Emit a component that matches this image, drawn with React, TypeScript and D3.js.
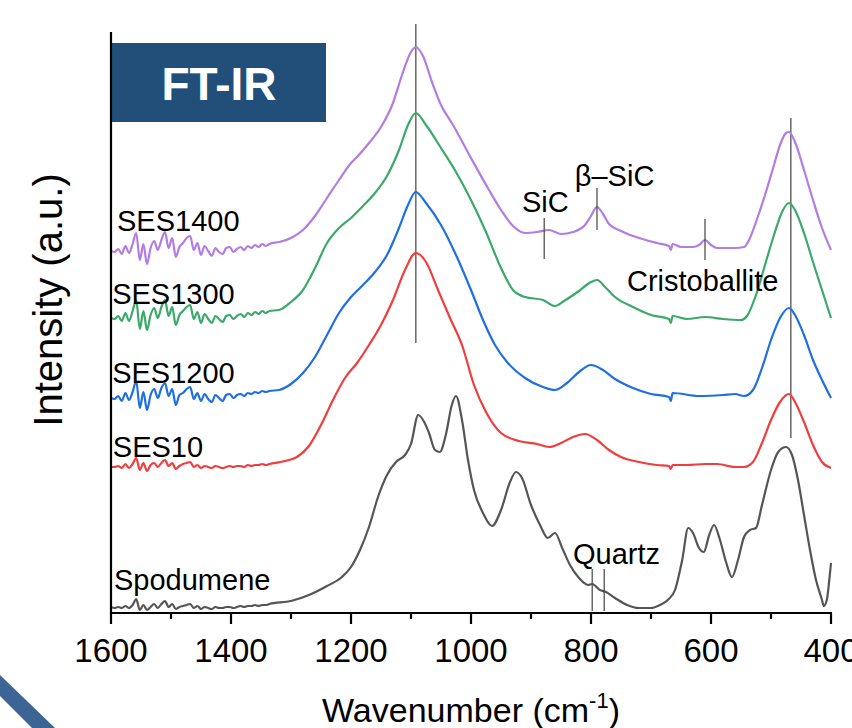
import React from "react";
import * as d3 from "d3";

// ---------- data ----------
const majorTicks = [1600, 1400, 1200, 1000, 800, 600, 400];
const minorTicks = [1500, 1300, 1100, 900, 700, 500];

const noiseWavenumbers = [
  1600, 1594, 1588, 1582, 1576, 1570, 1564, 1558, 1552, 1546, 1540, 1534, 1528, 1522, 1516,
  1510, 1504, 1498, 1492, 1486, 1480, 1474, 1468, 1462, 1456, 1450, 1444, 1438, 1432, 1426,
  1420, 1414, 1408, 1402, 1396, 1390, 1384, 1378, 1372, 1366, 1360, 1354, 1348, 1342, 1336,
];

const ses1400Noise = [
  36.2, 36.1, 36.4, 35.9, 36.7, 36.0, 36.9, 38.0, 35.3, 36.9, 34.9, 36.5, 37.2, 36.3, 37.3,
  38.1, 36.5, 37.5, 35.6, 36.6, 37.0, 37.5, 37.7, 36.3, 37.0, 35.8, 36.7, 36.2, 35.7, 36.5,
  36.1, 35.9, 36.5, 36.6, 36.1, 36.4, 36.6, 36.3, 36.7, 36.5, 36.8, 36.6, 36.9, 36.7, 36.9,
];
const ses1300Noise = [
  29.5, 29.4, 29.7, 29.2, 30.0, 29.2, 30.2, 31.3, 28.4, 30.2, 28.3, 29.8, 30.5, 29.5, 30.6,
  31.3, 29.7, 30.6, 28.8, 29.8, 30.2, 30.6, 30.8, 29.4, 30.1, 29.0, 29.9, 29.4, 29.0, 29.7,
  29.4, 29.1, 29.7, 29.8, 29.4, 29.7, 29.9, 29.6, 30.0, 29.8, 30.1, 29.9, 30.2, 30.0, 30.2,
];
const ses1200Noise = [
  21.5, 21.4, 21.7, 21.2, 22.0, 21.3, 22.1, 23.2, 20.5, 22.1, 20.3, 21.8, 22.4, 21.5, 22.5,
  23.0, 21.7, 22.4, 20.8, 21.8, 22.0, 22.4, 22.6, 21.4, 22.0, 21.2, 21.9, 21.4, 21.1, 21.8,
  21.5, 21.2, 21.8, 21.9, 21.5, 21.8, 21.9, 21.7, 22.0, 21.9, 22.1, 22.0, 22.2, 22.1, 22.2,
];
const ses10Noise = [
  14.6, 14.6, 14.7, 14.5, 14.9, 14.5, 14.9, 15.5, 14.3, 15.0, 14.2, 14.8, 15.0, 14.6, 15.0,
  15.3, 14.7, 15.0, 14.4, 14.7, 14.9, 15.0, 15.1, 14.6, 14.8, 14.5, 14.7, 14.6, 14.5, 14.7,
  14.6, 14.5, 14.6, 14.7, 14.6, 14.7, 14.7, 14.6, 14.8, 14.7, 14.8, 14.8, 14.9, 14.8, 14.9,
];
const spodumeneNoise = [
  0.6, 0.5, 0.6, 0.5, 0.7, 0.5, 0.8, 1.4, 0.3, 0.8, 0.3, 0.6, 0.9, 0.5, 0.9,
  1.2, 0.6, 0.9, 0.4, 0.6, 0.7, 0.8, 0.9, 0.5, 0.7, 0.4, 0.6, 0.5, 0.4, 0.6,
  0.5, 0.5, 0.6, 0.6, 0.5, 0.6, 0.7, 0.6, 0.7, 0.7, 0.8, 0.7, 0.8, 0.8, 0.9,
];

// [wavenumber (cm-1), intensity (a.u.)]
const ses1400Main: [number, number][] = [
  [1320, 37.1], [1300, 37.5], [1280, 38.3], [1260, 39.7], [1240, 41.5], [1220, 43.3],
  [1200, 45.0], [1190, 45.6], [1170, 47.0], [1150, 48.6], [1130, 51.0], [1115, 53.8],
  [1100, 56.1], [1092, 56.6], [1080, 55.7], [1065, 53.1], [1050, 50.8], [1030, 48.8],
  [1000, 45.5], [970, 42.3], [950, 40.3], [930, 38.7], [910, 38.0], [890, 38.1],
  [870, 38.3], [850, 37.9], [830, 38.1], [810, 38.8], [800, 39.7], [790, 40.6],
  [780, 39.9], [770, 38.9], [750, 38.2], [720, 37.5], [690, 37.0], [670, 36.7],
  [667, 36.3], [664, 36.9], [650, 36.6], [630, 36.6], [620, 36.8], [610, 37.3],
  [600, 36.8], [590, 36.5], [560, 36.5], [545, 36.6], [535, 37.5], [525, 39.1],
  [510, 41.8], [495, 44.8], [485, 46.8], [475, 48.0], [470, 48.1], [460, 47.1],
  [445, 44.3], [430, 41.3], [415, 38.5], [400, 36.3],
];
const ses1300Main: [number, number][] = [
  [1320, 30.3], [1300, 31.1], [1280, 32.3], [1260, 34.5], [1240, 37.0], [1220, 38.5],
  [1200, 39.5], [1180, 40.7], [1160, 42.0], [1140, 43.7], [1120, 46.3], [1105, 48.8],
  [1092, 50.0], [1075, 48.8], [1050, 46.5], [1025, 44.1], [1000, 41.3], [975, 38.1],
  [950, 34.5], [930, 32.3], [910, 31.6], [880, 31.3], [860, 30.7], [845, 31.2],
  [820, 32.2], [800, 33.1], [790, 33.3], [775, 32.5], [760, 31.6], [730, 30.6],
  [700, 29.8], [670, 29.4], [667, 29.0], [664, 29.7], [640, 29.4], [610, 29.6],
  [580, 29.4], [550, 29.3], [540, 29.7], [525, 31.8], [510, 34.8], [495, 37.8],
  [480, 40.3], [470, 41.0], [460, 40.3], [445, 38.0], [430, 35.1], [415, 32.3],
  [400, 29.5],
];
const ses1200Main: [number, number][] = [
  [1320, 22.3], [1300, 22.9], [1280, 24.0], [1260, 25.6], [1240, 27.8], [1220, 30.0],
  [1200, 31.6], [1180, 32.8], [1160, 34.1], [1140, 35.8], [1120, 38.5], [1105, 40.8],
  [1092, 42.1], [1075, 41.0], [1050, 38.8], [1025, 35.8], [1000, 32.3], [980, 29.3],
  [960, 26.8], [940, 25.1], [910, 23.5], [880, 22.6], [860, 22.3], [840, 23.0],
  [820, 24.1], [800, 24.8], [780, 24.3], [760, 23.4], [730, 22.5], [700, 21.9],
  [670, 21.6], [667, 21.2], [664, 22.0], [620, 21.7], [580, 21.8], [560, 21.9],
  [545, 21.7], [530, 22.3], [515, 24.5], [500, 27.3], [485, 29.5], [470, 30.5],
  [460, 29.8], [445, 27.8], [430, 25.3], [415, 23.3], [400, 21.5],
];
const ses10Main: [number, number][] = [
  [1310, 15.2], [1290, 15.6], [1270, 16.7], [1250, 18.8], [1230, 21.3], [1210, 23.5],
  [1190, 25.0], [1170, 26.8], [1150, 28.8], [1130, 31.3], [1110, 34.3], [1092, 36.0],
  [1075, 35.1], [1055, 32.3], [1035, 29.5], [1015, 26.8], [995, 22.8], [975, 20.1],
  [950, 18.0], [920, 17.2], [890, 16.9], [870, 16.6], [850, 17.0], [830, 17.6],
  [810, 17.9], [790, 17.3], [770, 16.3], [750, 15.6], [720, 15.1], [690, 14.8],
  [670, 14.7], [667, 14.4], [664, 14.8], [640, 14.8], [610, 14.9], [590, 14.9],
  [560, 14.6], [545, 14.6], [530, 15.1], [515, 17.0], [500, 19.3], [485, 21.1],
  [470, 21.9], [460, 21.1], [445, 19.1], [430, 16.8], [415, 15.1], [400, 14.5],
];
const spodumeneMain: [number, number][] = [
  [1300, 1.2], [1270, 1.8], [1240, 2.7], [1215, 3.6], [1200, 4.6], [1185, 6.3],
  [1170, 8.6], [1155, 11.6], [1140, 13.8], [1125, 15.1], [1110, 15.8], [1100, 16.9],
  [1088, 19.8], [1078, 19.1], [1070, 18.0], [1060, 16.3], [1052, 16.1], [1042, 17.8],
  [1032, 20.8], [1025, 21.7], [1015, 19.3], [1005, 15.3], [995, 12.3], [980, 10.0],
  [965, 8.7], [950, 10.3], [935, 13.1], [925, 14.1], [915, 13.5], [900, 10.8],
  [885, 8.8], [872, 7.5], [860, 8.0], [848, 6.5], [835, 4.8], [820, 3.5],
  [805, 2.8], [798, 2.9], [785, 2.3], [775, 2.1], [760, 1.5], [740, 0.8],
  [720, 0.5], [700, 0.5], [685, 0.8], [672, 1.3], [660, 2.3], [648, 5.3],
  [638, 8.5], [630, 8.0], [620, 6.5], [612, 6.1], [603, 7.8], [595, 8.8],
  [585, 7.3], [575, 5.1], [565, 3.6], [555, 5.3], [545, 7.6], [535, 8.3],
  [525, 8.5], [515, 10.8], [500, 14.3], [488, 16.1], [475, 16.6], [465, 15.8],
  [455, 13.3], [445, 9.8], [435, 6.3], [425, 3.3], [415, 1.3], [412, 0.7],
  [407, 1.3], [402, 3.8], [400, 5.0],
];

const seriesNames = ["SES1400", "SES1300", "SES1200", "SES10", "Spodumene"];
const seriesColors = ["#b27de3", "#3aa96a", "#1f6fe0", "#f03d3d", "#555555"];
const seriesNoise = [ses1400Noise, ses1300Noise, ses1200Noise, ses10Noise, spodumeneNoise];
const seriesMain = [ses1400Main, ses1300Main, ses1200Main, ses10Main, spodumeneMain];
// label anchor: [wavenumber, intensity]
const seriesLabelPos: [number, number][] = [
  [1590, 38.2], [1598, 30.9], [1598, 23.0], [1597, 15.6], [1595, 2.3],
];

// reference lines: [wavenumber, from, to]
const guideLines: [number, number, number][] = [
  [1092, 27.0, 58.9],
  [467, 17.5, 49.5],
];
const markerLines: [number, number, number][] = [
  [878, 35.4, 39.5],
  [790, 38.3, 42.5],
  [610, 35.3, 39.4],
  [798, 0.2, 4.4],
  [778, 0.2, 4.4],
];
const annotations: [string, number, number][] = [
  ["SiC", 915, 40.1],
  ["\u03b2\u2013SiC", 827, 42.7],
  ["Cristoballite", 740, 32.2],
  ["Quartz", 830, 4.9],
];

const FONT = "'Liberation Sans', Arial, Helvetica, sans-serif";

export default function App() {
  const W = 852;
  const H = 728;
  const x = d3.scaleLinear().domain([1600, 400]).range([111, 831]);
  const y = d3.scaleLinear().domain([0, 58.1]).range([613, 32]);

  const line = d3
    .line<[number, number]>()
    .x((d) => x(d[0]))
    .y((d) => y(d[1]))
    .curve(d3.curveMonotoneX);

  const series = seriesNames.map((name, i) => {
    const pts: [number, number][] = noiseWavenumbers.map((w, j) => [w, seriesNoise[i][j]]);
    return { name, color: seriesColors[i], pts: pts.concat(seriesMain[i]) };
  });

  return (
    <svg
      width={W}
      height={H}
      viewBox={`0 0 ${W} ${H}`}
      style={{ position: "absolute", left: 0, top: 0, display: "block", background: "#fff" }}
      fontFamily={FONT}
    >
      <rect x={0} y={0} width={W} height={H} fill="#ffffff" />

      {/* decorative band */}
      <polygon points="0,675 55,728 32,728 0,696" fill="#3c6596" />

      {/* FT-IR box */}
      <rect x={112} y={43} width={214} height={79} fill="#214f79" />
      <text x={219} y={100} fill="#ffffff" fontSize={46} fontWeight="bold" textAnchor="middle">
        FT-IR
      </text>

      {/* guide lines */}
      {guideLines.map(([w, a, b], i) => (
        <line key={"g" + i} x1={x(w)} x2={x(w)} y1={y(a)} y2={y(b)} stroke="#707070" strokeWidth={1.6} />
      ))}

      {/* spectra */}
      {series.map((s) => (
        <path key={s.name} d={line(s.pts) || ""} fill="none" stroke={s.color} strokeWidth={2.2} strokeLinejoin="round" />
      ))}

      {/* marker lines */}
      {markerLines.map(([w, a, b], i) => (
        <line key={"m" + i} x1={x(w)} x2={x(w)} y1={y(a)} y2={y(b)} stroke="#444" strokeWidth={1.2} />
      ))}

      {/* annotations */}
      {annotations.map(([t, w, v]) => (
        <text key={t} x={x(w)} y={y(v)} fontSize={29} fill="#000">
          {t}
        </text>
      ))}

      {/* series labels */}
      {series.map((s, i) => (
        <text key={"l" + s.name} x={x(seriesLabelPos[i][0])} y={y(seriesLabelPos[i][1])} fontSize={29} fill="#000">
          {s.name}
        </text>
      ))}

      {/* axes */}
      <line x1={111} x2={111} y1={32} y2={614} stroke="#000" strokeWidth={2.2} />
      <line x1={110} x2={832} y1={613} y2={613} stroke="#000" strokeWidth={2.2} />
      {majorTicks.map((t) => (
        <g key={"t" + t}>
          <line x1={x(t)} x2={x(t)} y1={613} y2={624} stroke="#000" strokeWidth={2.2} />
          <text x={x(t)} y={662} fontSize={33} textAnchor="middle" fill="#000">
            {t}
          </text>
        </g>
      ))}
      {minorTicks.map((t) => (
        <line key={"n" + t} x1={x(t)} x2={x(t)} y1={613} y2={619} stroke="#000" strokeWidth={2.2} />
      ))}

      {/* axis titles */}
      <text x={471} y={722} fontSize={34} textAnchor="middle" fill="#000">
        Wavenumber (cm
        <tspan fontSize={22} dy={-14}>-1</tspan>
        <tspan dy={14}>)</tspan>
      </text>
      <text
        transform={`translate(62, 300) rotate(-90)`}
        fontSize={40}
        textAnchor="middle"
        fill="#000"
      >
        Intensity (a.u.)
      </text>
    </svg>
  );
}
